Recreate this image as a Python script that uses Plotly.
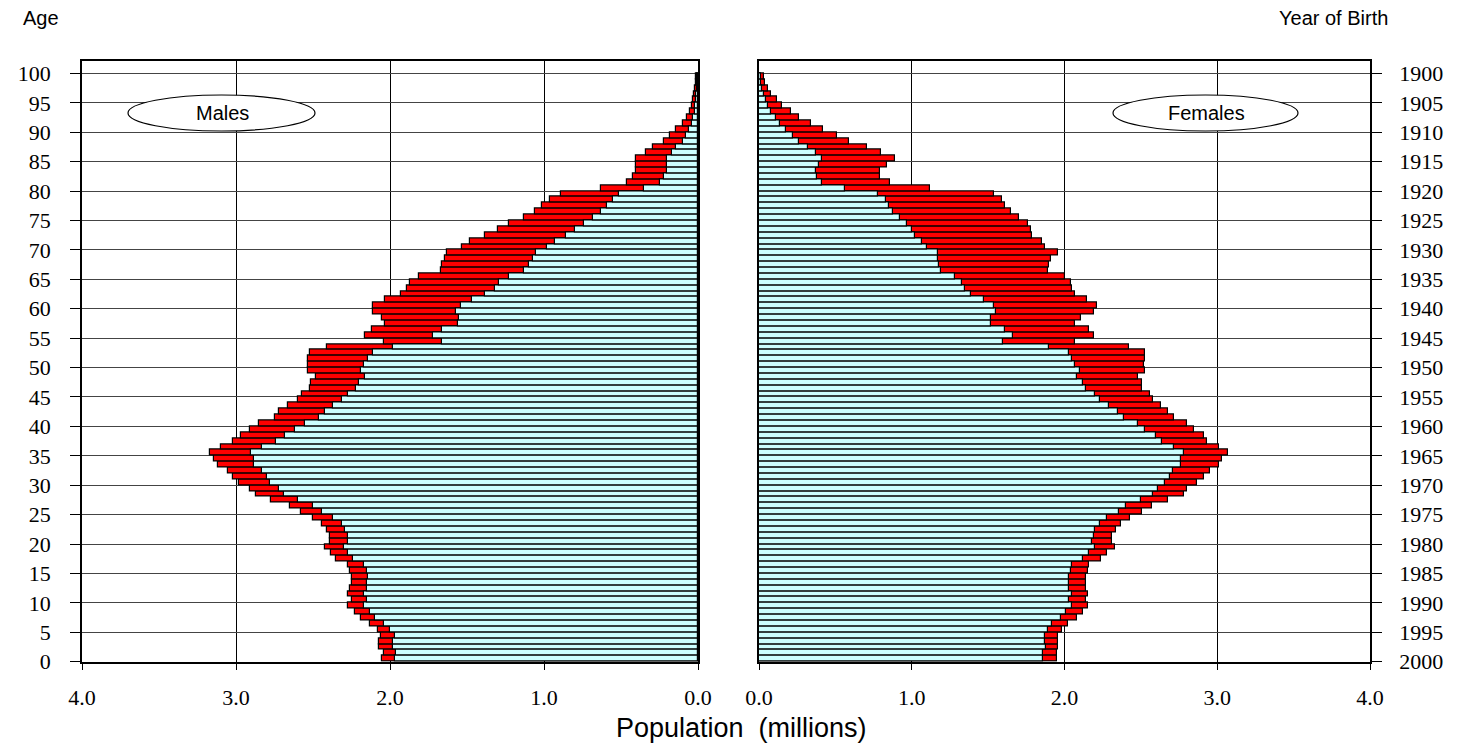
import plotly.graph_objects as go

# Age in single years (bar for age a spans a..a+1)
ages = list(range(100))

# Population in millions
male_total = [
    2.05, 2.04, 2.07, 2.07, 2.06, 2.08, 2.13, 2.19, 2.23, 2.27,
    2.25, 2.27, 2.26, 2.25, 2.25, 2.26, 2.27, 2.35, 2.38, 2.42,
    2.39, 2.39, 2.41, 2.44, 2.50, 2.58, 2.65, 2.77, 2.87, 2.91,
    2.98, 3.02, 3.05, 3.12, 3.14, 3.17, 3.10, 3.02, 2.97, 2.91,
    2.85, 2.75, 2.72, 2.66, 2.60, 2.57, 2.52, 2.51, 2.48, 2.53,
    2.53, 2.53, 2.52, 2.41, 2.04, 2.16, 2.12, 2.03, 2.05, 2.11,
    2.11, 2.03, 1.93, 1.89, 1.87, 1.81, 1.67, 1.66, 1.64, 1.63,
    1.53, 1.48, 1.38, 1.30, 1.23, 1.13, 1.06, 1.01, 0.96, 0.89,
    0.63, 0.46, 0.42, 0.40, 0.40, 0.40, 0.34, 0.29, 0.22, 0.18,
    0.14, 0.10, 0.07, 0.055, 0.04, 0.03, 0.025, 0.02, 0.012, 0.01,
]
male_cyan = [
    1.97, 1.96, 1.98, 1.98, 1.97, 2.00, 2.04, 2.10, 2.13, 2.17,
    2.15, 2.17, 2.15, 2.15, 2.14, 2.15, 2.17, 2.24, 2.27, 2.30,
    2.27, 2.27, 2.29, 2.31, 2.37, 2.44, 2.50, 2.60, 2.69, 2.72,
    2.78, 2.80, 2.83, 2.88, 2.88, 2.90, 2.83, 2.74, 2.68, 2.62,
    2.55, 2.46, 2.42, 2.37, 2.31, 2.27, 2.22, 2.20, 2.16, 2.19,
    2.17, 2.14, 2.11, 1.98, 1.66, 1.72, 1.66, 1.56, 1.55, 1.57,
    1.54, 1.47, 1.38, 1.32, 1.29, 1.23, 1.13, 1.10, 1.07, 1.05,
    0.98, 0.93, 0.86, 0.80, 0.74, 0.68, 0.63, 0.59, 0.55, 0.51,
    0.35, 0.25, 0.22, 0.20, 0.20, 0.20, 0.17, 0.14, 0.10, 0.08,
    0.06, 0.04, 0.03, 0.02, 0.02, 0.015, 0.01, 0.008, 0.005, 0.005,
]
female_total = [
    1.95, 1.95, 1.96, 1.96, 1.96, 1.985, 2.02, 2.08, 2.12, 2.155,
    2.14, 2.155, 2.14, 2.14, 2.14, 2.155, 2.16, 2.24, 2.28, 2.33,
    2.31, 2.31, 2.34, 2.37, 2.43, 2.51, 2.57, 2.68, 2.78, 2.80,
    2.87, 2.91, 2.95, 3.01, 3.03, 3.07, 3.01, 2.93, 2.91, 2.85,
    2.80, 2.72, 2.68, 2.63, 2.58, 2.56, 2.51, 2.51, 2.48, 2.53,
    2.52, 2.53, 2.53, 2.42, 2.07, 2.19, 2.16, 2.07, 2.11, 2.19,
    2.21, 2.15, 2.07, 2.05, 2.04, 2.00, 1.89, 1.90, 1.91, 1.96,
    1.87, 1.85, 1.79, 1.78, 1.76, 1.70, 1.65, 1.61, 1.59, 1.54,
    1.12, 0.86, 0.79, 0.79, 0.84, 0.89, 0.80, 0.71, 0.59, 0.51,
    0.42, 0.34, 0.26, 0.21, 0.15, 0.12, 0.08, 0.06, 0.04, 0.035,
]
female_cyan = [
    1.86, 1.86, 1.88, 1.87, 1.87, 1.89, 1.92, 1.98, 2.01, 2.05,
    2.03, 2.05, 2.03, 2.03, 2.03, 2.04, 2.05, 2.12, 2.16, 2.20,
    2.18, 2.19, 2.20, 2.23, 2.28, 2.36, 2.40, 2.50, 2.58, 2.61,
    2.66, 2.69, 2.71, 2.76, 2.76, 2.78, 2.72, 2.64, 2.60, 2.53,
    2.48, 2.39, 2.35, 2.29, 2.23, 2.20, 2.14, 2.12, 2.08, 2.10,
    2.07, 2.05, 2.03, 1.90, 1.60, 1.66, 1.61, 1.52, 1.52, 1.55,
    1.54, 1.47, 1.39, 1.35, 1.33, 1.28, 1.19, 1.18, 1.17, 1.17,
    1.10, 1.07, 1.02, 1.00, 0.97, 0.92, 0.88, 0.85, 0.83, 0.78,
    0.56, 0.41, 0.38, 0.37, 0.39, 0.41, 0.37, 0.32, 0.26, 0.22,
    0.18, 0.14, 0.11, 0.08, 0.06, 0.045, 0.03, 0.02, 0.015, 0.01,
]

pop_ticks = [0, 1, 2, 3, 4]
pop_labels = ["0.0", "1.0", "2.0", "3.0", "4.0"]
age_ticks = [0, 5, 10, 15, 20, 25, 30, 35, 40, 45, 50,
             55, 60, 65, 70, 75, 80, 85, 90, 95, 100]
age_labels = [str(a) for a in age_ticks]
birth_labels = ["2000", "1995", "1990", "1985", "1980", "1975", "1970",
                "1965", "1960", "1955", "1950", "1945", "1940", "1935",
                "1930", "1925", "1920", "1915", "1910", "1905", "1900"]

RED = "#FF0000"
CYAN = "#CCFFFF"
W, H = 1464, 745


def px(x):
    return x / W


def py(y):
    return 1 - y / H


fig = go.Figure()
bar_common = dict(orientation="h", width=1, offset=0,
                  marker_line=dict(color="#000000", width=1.2),
                  hoverinfo="skip", showlegend=False)
fig.add_trace(go.Bar(x=male_total, y=ages, marker_color=RED,
                     xaxis="x", yaxis="y", **bar_common))
fig.add_trace(go.Bar(x=male_cyan, y=ages, marker_color=CYAN,
                     xaxis="x", yaxis="y", **bar_common))
fig.add_trace(go.Bar(x=female_total, y=ages, marker_color=RED,
                     xaxis="x2", yaxis="y2", **bar_common))
fig.add_trace(go.Bar(x=female_cyan, y=ages, marker_color=CYAN,
                     xaxis="x2", yaxis="y2", **bar_common))

serif = dict(family="Liberation Serif", size=22, color="#000000")
sans = "Liberation Sans, Arial, sans-serif"

xcommon = dict(tickvals=pop_ticks, ticktext=pop_labels,
               showgrid=True, gridcolor="#000000", gridwidth=1,
               showline=True, linecolor="#000000", linewidth=1.5, mirror=True,
               ticks="outside", ticklen=7, tickcolor="#000000",
               tickfont=serif, zeroline=False, ticklabelstandoff=8,
               automargin=False, fixedrange=True)
ycommon = dict(range=[0, 102.2], tickvals=age_ticks,
               showgrid=True, gridcolor="#444444", gridwidth=1,
               showline=True, linecolor="#000000", linewidth=1.5, mirror=True,
               ticks="outside", tickcolor="#000000", ticklen=10,
               tickfont=serif, zeroline=False, automargin=False,
               fixedrange=True)

fig.update_layout(
    width=W, height=H,
    margin=dict(l=0, r=0, t=0, b=0, autoexpand=False),
    paper_bgcolor="white", plot_bgcolor="white",
    barmode="overlay", bargap=0,
    xaxis=dict(domain=[px(82), px(698)], range=[4, 0], anchor="y", **xcommon),
    xaxis2=dict(domain=[px(759), px(1370)], range=[0, 4], anchor="y2", **xcommon),
    yaxis=dict(domain=[py(661.7), py(60.5)], anchor="x", side="left",
               ticktext=age_labels, ticklabelstandoff=15, **ycommon),
    yaxis2=dict(domain=[py(661.7), py(60.5)], anchor="x2", side="right",
                ticktext=birth_labels, ticklabelstandoff=13, **ycommon),
    shapes=[
        dict(type="circle", xref="paper", yref="paper",
             x0=px(128), x1=px(315), y0=py(131), y1=py(95),
             line=dict(color="#000000", width=1.2), fillcolor="white"),
        dict(type="circle", xref="paper", yref="paper",
             x0=px(1113), x1=px(1298), y0=py(131), y1=py(95),
             line=dict(color="#000000", width=1.2), fillcolor="white"),
    ],
    annotations=[
        dict(text="Males", x=px(222), y=py(113), xref="paper", yref="paper",
             xanchor="center", yanchor="middle", showarrow=False,
             font=dict(family=sans, size=20, color="#000000")),
        dict(text="Females", x=px(1206), y=py(113), xref="paper", yref="paper",
             xanchor="center", yanchor="middle", showarrow=False,
             font=dict(family=sans, size=20, color="#000000")),
        dict(text="Age", x=px(21), y=py(18), xref="paper", yref="paper",
             xanchor="left", yanchor="middle", showarrow=False,
             font=dict(family=sans, size=20, color="#000000")),
        dict(text="Year of Birth", x=px(1390), y=py(18), xref="paper", yref="paper",
             xanchor="right", yanchor="middle", showarrow=False,
             font=dict(family=sans, size=20, color="#000000")),
        dict(text="Population\u00a0 (millions)", x=px(741), y=py(728),
             xref="paper", yref="paper", xanchor="center", yanchor="middle",
             showarrow=False,
             font=dict(family=sans, size=27, color="#000000")),
    ],
)

fig.write_html("out.html")
